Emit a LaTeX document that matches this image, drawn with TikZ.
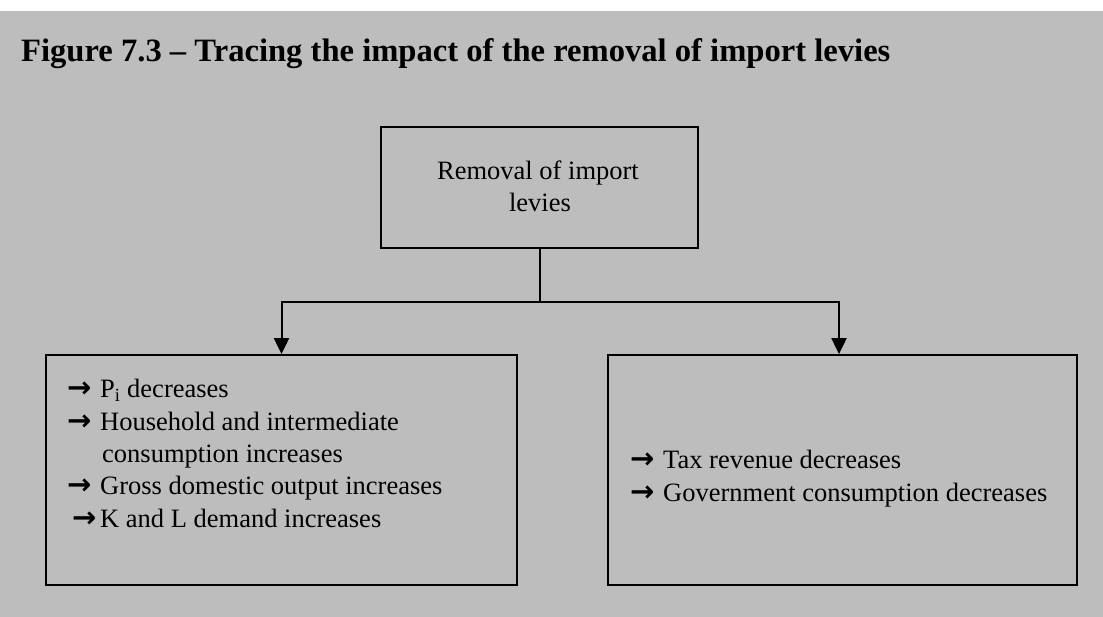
\documentclass[tikz,border=0pt]{standalone}
\usepackage{fontspec}
\setmainfont{Liberation Serif}
\newfontfamily\arrowfont{DejaVu Sans}
\usetikzlibrary{arrows.meta}
\definecolor{paper}{gray}{0.74}
\begin{document}
\begin{tikzpicture}[x=1pt,y=-1pt,
  box/.style={draw=black,line width=1.8pt,inner sep=0pt,fill=none},
  conn/.style={draw=black,line width=2pt},
  tip/.style={-{Triangle[length=16pt,width=15pt]}},
  body/.style={inner sep=0pt,anchor=base west,font=\fontsize{26.5}{32}\selectfont},
  mid/.style={inner sep=0pt,anchor=base,font=\fontsize{26.5}{32}\selectfont},
  bullet/.style={inner sep=0pt,anchor=base west,font=\arrowfont\bfseries\fontsize{29}{29}\selectfont},
  heading/.style={inner sep=0pt,anchor=base west,font=\bfseries\fontsize{32.6}{36}\selectfont}]
\useasboundingbox (0,0) rectangle (1103,617);
\fill[white] (0,0) rectangle (1103,617);
\fill[paper] (0,11) rectangle (1103,617);

% caption
\node[heading] (title) at (21,62) {Figure 7.3 -- Tracing the impact of the removal of import levies};

% boxes
\node[box,minimum width=317pt,minimum height=121pt] (top) at (539.5,187.5) {};
\node[box,minimum width=471pt,minimum height=230pt] (left) at (281.5,470) {};
\node[box,minimum width=469pt,minimum height=230pt] (right) at (842.5,470) {};

% connectors
\coordinate (split) at (539.5,302);
\draw[conn] (top.south) -- (split);
\draw[conn,tip] (split) -| (left.north);
\draw[conn,tip] (split) -| ([xshift=-3.5pt]right.north);

% top box text
\node[mid] (t1) at (538,180) {Removal of import};
\node[mid] (t2) at (540,212) {levies};

% left box text
\node[bullet] (la1) at (67,398) {\char"2192};
\node[body] (l1) at (100,398) {P\textsubscript{i} decreases};
\node[bullet] (la2) at (67,430.3) {\char"2192};
\node[body] (l2) at (100,430.3) {Household and intermediate};
\node[body] (l3) at (102,462.6) {consumption increases};
\node[bullet] (la4) at (67,494.9) {\char"2192};
\node[body] (l4) at (100,494.9) {Gross domestic output increases};
\node[bullet] (la5) at (72,527.2) {\char"2192};
\node[body] (l5) at (100,527.2) {K and L demand increases};

% right box text
\node[bullet] (ra1) at (630,468) {\char"2192};
\node[body] (r1) at (663,468) {Tax revenue decreases};
\node[bullet] (ra2) at (630,501) {\char"2192};
\node[body] (r2) at (663,501) {Government consumption decreases};
\end{tikzpicture}
\end{document}
